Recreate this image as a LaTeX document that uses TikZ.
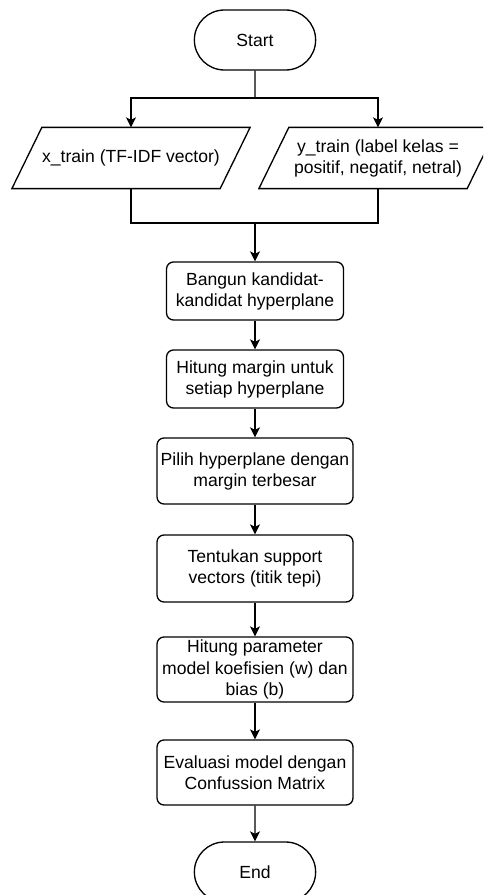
\documentclass[tikz,border=0pt]{standalone}
\usepackage{fontspec}
\setmainfont{Liberation Sans}
\usetikzlibrary{arrows.meta,shapes.misc}
\tikzset{
	term/.style={draw, rounded rectangle, minimum width=2.66cm, minimum height=1.2cm},
	io/.style={minimum width=4.14cm, minimum height=1.2cm, inner sep=1pt, align=center},
	proc/.style={draw, rounded corners=0.14cm, inner sep=1pt, align=center},
	arr/.style={-{Stealth[length=0.2cm,width=0.2cm,inset=0.05cm]}},
}
\begin{document}
\begin{tikzpicture}[x=0.02cm, y=-0.02cm, line width=0.75pt, font=\fontsize{10}{12}\selectfont]
	\useasboundingbox (0,0) rectangle (483,895);
	\clip (0,0) rectangle (483,895);
	\node[term] (start) at (255,40) {Start};
	\node[io] (xin) at (131,158) {x\_train (TF-IDF vector)};
	\node[io] (yin) at (378,158) {y\_train (label kelas =\\positif, negatif, netral)};
	\foreach \n in {xin,yin} \draw ([xshift=0.3cm]\n.north west) -- ([xshift=0.3cm]\n.north east) -- ([xshift=-0.3cm]\n.south east) -- ([xshift=-0.3cm]\n.south west) -- cycle;
	\node[proc, minimum width=3.54cm, minimum height=1.16cm] (b1) at (255,291) {Bangun kandidat-\\kandidat hyperplane};
	\node[proc, minimum width=3.54cm, minimum height=1.16cm] (b2) at (255,379) {Hitung margin untuk\\setiap hyperplane};
	\node[proc, minimum width=3.92cm, minimum height=1.32cm] (b3) at (255,471) {Pilih hyperplane dengan\\margin terbesar};
	\node[proc, minimum width=3.92cm, minimum height=1.34cm] (b4) at (255,568.5) {Tentukan support\\vectors (titik tepi)};
	\node[proc, minimum width=3.92cm, minimum height=1.3cm] (b5) at (255,669.5) {Hitung parameter\\model koefisien (w) dan\\bias (b)};
	\node[proc, minimum width=3.92cm, minimum height=1.3cm] (b6) at (255,772.5) {Evaluasi model dengan\\Confussion Matrix};
	\node[term] (end) at (255,872) {End};
	\coordinate (split) at (255,98);
	\coordinate (join) at (255,223);
	\draw (start) -- (split);
	\draw[arr] (split) -| (xin);
	\draw[arr] (split) -| (yin);
	\draw (xin) |- (join);
	\draw (yin) |- (join);
	\draw[arr] (join) -- (b1);
	\foreach \a/\b in {b1/b2,b2/b3,b3/b4,b4/b5,b5/b6,b6/end} \draw[arr] (\a) -- (\b);
\end{tikzpicture}
\end{document}
